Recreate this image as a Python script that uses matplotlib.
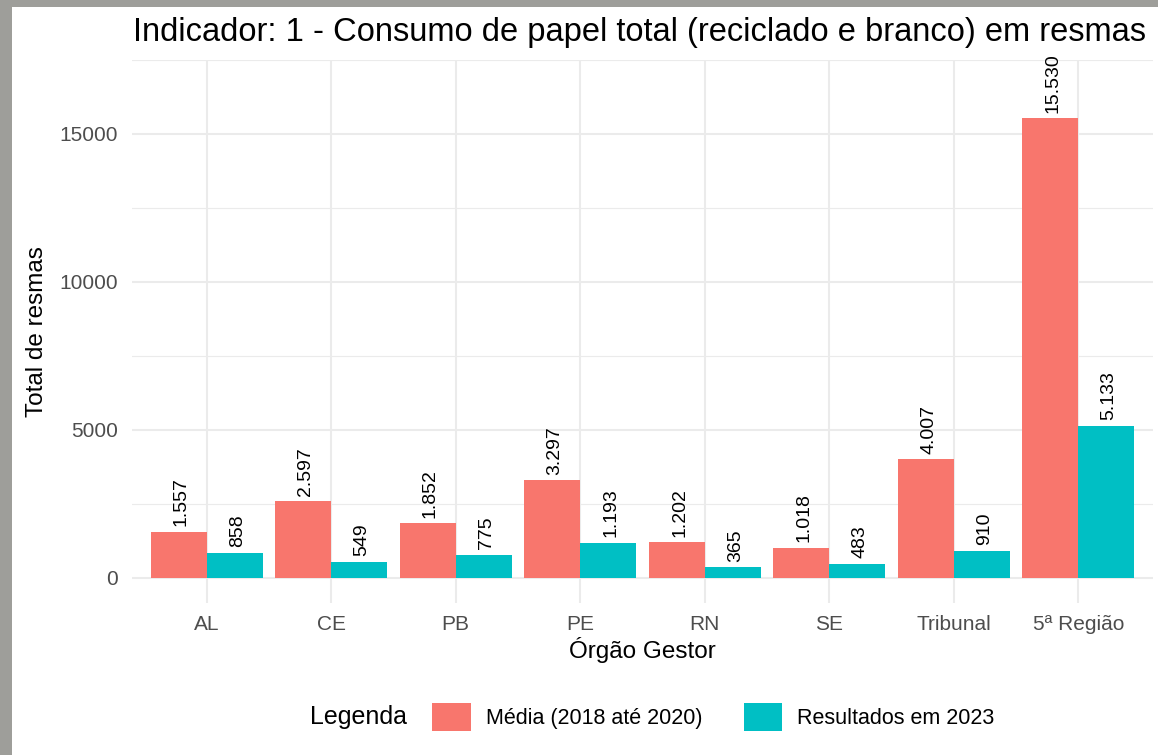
import matplotlib.pyplot as plt
import numpy as np
from matplotlib.patches import Patch, Rectangle

plt.rcParams['font.family'] = ['Liberation Sans', 'DejaVu Sans']

orgaos = ['AL', 'CE', 'PB', 'PE', 'RN', 'SE', 'Tribunal', '5ª Região']
media_2018_2020 = [1557, 2597, 1852, 3297, 1202, 1018, 4007, 15530]
resultados_2023 = [858, 549, 775, 1193, 365, 483, 910, 5133]

RED = '#F8766D'
TEAL = '#00BFC4'
GRID = '#EBEBEB'


def fmt_br(v):
    return '{:,}'.format(v).replace(',', '.')


fig = plt.figure(figsize=(11.58, 7.55), dpi=100, facecolor='white')

# screenshot frame (gray border at left and top)
fig.patches.append(Rectangle((0, 0), 12 / 1158, 1, transform=fig.transFigure,
                             facecolor='#9e9e9a', edgecolor='none', zorder=-5))
fig.patches.append(Rectangle((0, 1 - 7 / 755), 1, 7 / 755, transform=fig.transFigure,
                             facecolor='#9e9e9a', edgecolor='none', zorder=-5))

ax = fig.add_axes([132 / 1158, 1 - 603 / 755, (1153 - 132) / 1158, (603 - 60) / 755])

x = np.arange(len(orgaos))
w = 0.45
b1 = ax.bar(x - w / 2, media_2018_2020, width=w, color=RED, zorder=3)
b2 = ax.bar(x + w / 2, resultados_2023, width=w, color=TEAL, zorder=3)

for bars, vals in [(b1, media_2018_2020), (b2, resultados_2023)]:
    for r, v in zip(bars, vals):
        ax.annotate(fmt_br(v), (r.get_x() + r.get_width() / 2, v),
                    xytext=(2, 4), textcoords='offset points',
                    rotation=90, ha='center', va='bottom',
                    fontsize=14, color='black', zorder=4)

ax.set_xlim(-0.6, len(orgaos) - 0.4)
ax.set_ylim(-845, 17500)
ax.set_yticks([0, 5000, 10000, 15000])
ax.set_yticks([2500, 7500, 12500, 17500], minor=True)
ax.set_xticks(x)
ax.set_xticklabels(orgaos)

ax.grid(True, which='major', color=GRID, linewidth=1.5, zorder=0)
ax.grid(True, which='minor', axis='y', color=GRID, linewidth=0.8, zorder=0)
for s in ax.spines.values():
    s.set_visible(False)
ax.tick_params(which='both', length=0)
ax.tick_params(axis='y', labelsize=15, labelcolor='#4D4D4D', pad=10)
ax.tick_params(axis='x', labelsize=15, labelcolor='#4D4D4D', pad=9)

ax.set_ylabel('Total de resmas', fontsize=17.5, labelpad=8)
ax.set_xlabel('Órgão Gestor', fontsize=17.5, labelpad=2)

fig.text(133 / 1158, 1 - 32 / 755, 'Indicador: 1 - Consumo de papel total (reciclado e branco) em resmas',
         fontsize=23.5, ha='left', va='center')

handles = [Patch(facecolor=RED, label='Média (2018 até 2020)'),
           Patch(facecolor=TEAL, label='Resultados em 2023')]
fig.text(310 / 1158, 1 - 717 / 755, 'Legenda', fontsize=18, ha='left', va='center')
fig.legend(handles=handles, loc='center left', bbox_to_anchor=(413 / 1158, 1 - 717 / 755),
           ncol=2, frameon=False, fontsize=15.5, handlelength=1.8, handleheight=1.6,
           handletextpad=0.7, columnspacing=1.9)

fig.savefig('out.png', dpi=100, facecolor='white')
